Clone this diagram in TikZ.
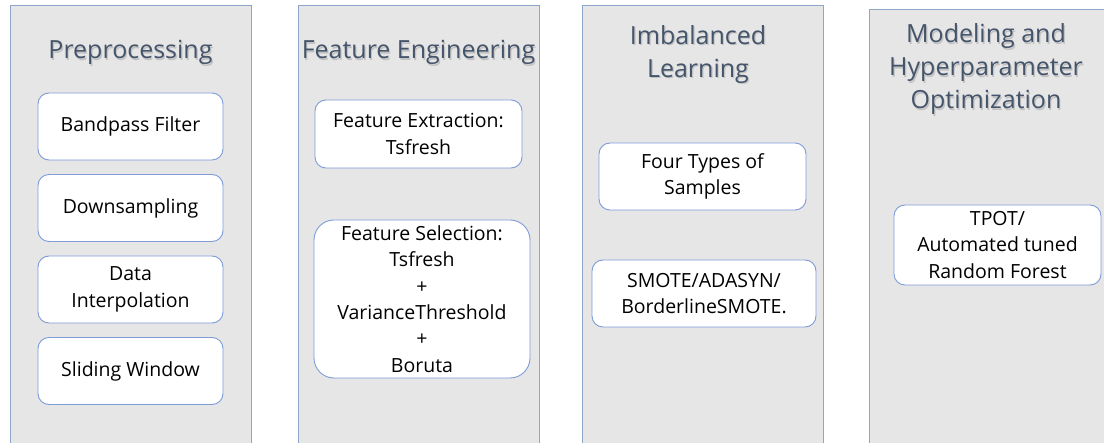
\documentclass[tikz,border=0pt]{standalone}
\usepackage{fontspec}
\setmainfont{Open Sans}
\definecolor{lanefill}{HTML}{E6E6E6}
\definecolor{lanebd}{HTML}{8FA6CC}
\definecolor{boxbd}{HTML}{7D9CD8}
\definecolor{titlecol}{HTML}{44546A}
\begin{document}
\begin{tikzpicture}[x=1pt,y=-1pt,
  lane/.style={draw=lanebd, fill=lanefill, line width=1pt},
  stepbox/.style={draw=boxbd, fill=white, rounded corners=11pt, line width=0.9pt,
    align=center, inner sep=0pt, font=\fontsize{19.5}{26.4}\selectfont},
  titletext/.style={align=center, text=titlecol, inner sep=0pt,
    font=\fontsize{25}{33}\selectfont},
  titleshade/.style={titletext, text=black!45, opacity=0.4}
]
\useasboundingbox (0,0) rectangle (1104,443);

% lanes
\draw[lane] (10,6) rectangle (251,452);
\draw[lane] (298,6) rectangle (539,452);
\draw[lane] (582,6) rectangle (823,452);
\draw[lane] (869,10) rectangle (1112,452);

% lane titles (with soft shadow)
\foreach \px/\py/\txt in {130.5/52.5/Preprocessing,
                          418.5/52.5/Feature Engineering,
                          698/54.5/{Imbalanced\\Learning},
                          986/69.5/{Modeling and\\Hyperparameter\\Optimization}}{
  \node[titleshade] at (\px+1.2,\py+1.5) {\txt};
}
\node[titletext] (t1) at (130.5,52.5) {Preprocessing};
\node[titletext] (t2) at (418.5,52.5) {Feature Engineering};
\node[titletext] (t3) at (698,54.5) {Imbalanced\\Learning};
\node[titletext] (t4) at (986,69.5) {Modeling and\\Hyperparameter\\Optimization};

% preprocessing steps
\node[stepbox, minimum width=185, minimum height=67] (bp) at (130.5,126.5) {Bandpass Filter};
\node[stepbox, minimum width=185, minimum height=67] (ds) at (130.5,208) {Downsampling};
\node[stepbox, minimum width=185, minimum height=67] (di) at (130.5,289.5) {Data\\Interpolation};
\node[stepbox, minimum width=185, minimum height=67] (sw) at (130.5,371) {Sliding Window};

% feature engineering
\node[stepbox, minimum width=207, minimum height=68] (fe) at (418.5,134) {Feature Extraction:\\Tsfresh};
\node[stepbox, minimum width=216, minimum height=158, rounded corners=20pt] (fs) at (422,299)
  {Feature Selection:\\Tsfresh\\+\\VarianceThreshold\\+\\Boruta};

% imbalanced learning
\node[stepbox, minimum width=207, minimum height=67] (ft) at (702.5,176.5) {Four Types of\\Samples};
\node[stepbox, minimum width=224, minimum height=67] (sm) at (704,293.5) {SMOTE/ADASYN/\\BorderlineSMOTE.};

% modeling
\node[stepbox, minimum width=207, minimum height=80] (tp) at (997.5,245) {TPOT/\\Automated tuned\\Random Forest};
\end{tikzpicture}
\end{document}
